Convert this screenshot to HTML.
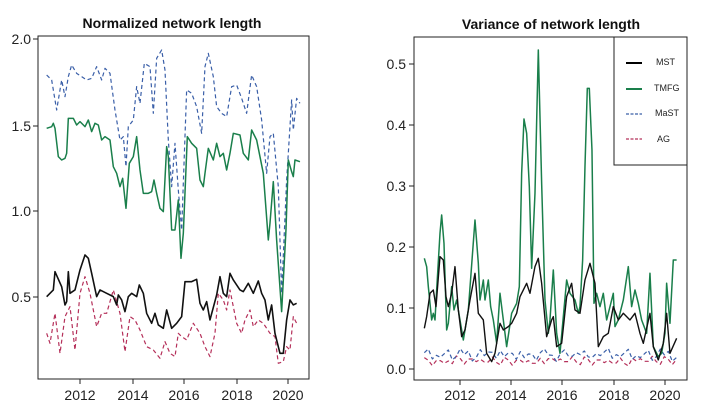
<!DOCTYPE html>
<html><head><meta charset="utf-8"><style>
html,body{margin:0;padding:0;background:#fff}
svg{display:block}
text{font-family:"Liberation Sans",sans-serif;fill:#222}
.t{font-weight:bold;font-size:14px;fill:#111}
.k{font-size:14px}
.l{font-size:9px}
</style></head><body>
<svg width="720" height="414" viewBox="0 0 720 414">
<rect width="720" height="414" fill="#fff"/>
<text class="t" x="172" y="28" text-anchor="middle">Normalized network length</text>
<text class="t" x="551" y="29" text-anchor="middle">Variance of network length</text>
<rect x="38" y="36" width="271" height="343" fill="none" stroke="#222" stroke-width="1"/>
<rect x="414" y="37" width="273" height="343" fill="none" stroke="#222" stroke-width="1"/>
<g stroke="#222" stroke-width="1">
<line x1="33" y1="39" x2="38" y2="39"/><line x1="33" y1="126" x2="38" y2="126"/><line x1="33" y1="211" x2="38" y2="211"/><line x1="33" y1="297" x2="38" y2="297"/>
<line x1="80" y1="379" x2="80" y2="384"/><line x1="133" y1="379" x2="133" y2="384"/><line x1="184" y1="379" x2="184" y2="384"/><line x1="237" y1="379" x2="237" y2="384"/><line x1="288" y1="379" x2="288" y2="384"/>
<line x1="409" y1="64" x2="414" y2="64"/><line x1="409" y1="125" x2="414" y2="125"/><line x1="409" y1="186" x2="414" y2="186"/><line x1="409" y1="247" x2="414" y2="247"/><line x1="409" y1="308" x2="414" y2="308"/><line x1="409" y1="369" x2="414" y2="369"/>
<line x1="460" y1="380" x2="460" y2="385"/><line x1="511" y1="380" x2="511" y2="385"/><line x1="562" y1="380" x2="562" y2="385"/><line x1="614" y1="380" x2="614" y2="385"/><line x1="665" y1="380" x2="665" y2="385"/>
</g>
<g class="k" text-anchor="end">
<text x="31" y="44">2.0</text><text x="31" y="131">1.5</text><text x="31" y="216">1.0</text><text x="31" y="302">0.5</text>
<text x="406" y="69">0.5</text><text x="406" y="130">0.4</text><text x="406" y="191">0.3</text><text x="406" y="252">0.2</text><text x="406" y="313">0.1</text><text x="406" y="374">0.0</text>
</g>
<g class="k" text-anchor="middle">
<text x="80" y="400">2012</text><text x="133" y="400">2014</text><text x="184" y="400">2016</text><text x="237" y="400">2018</text><text x="288" y="400">2020</text>
<text x="460" y="400">2012</text><text x="511" y="400">2014</text><text x="562" y="400">2016</text><text x="614" y="400">2018</text><text x="665" y="400">2020</text>
</g>
<g id="L" transform="scale(0.3333)" fill="none"></g>
<g id="R" transform="translate(360,0) scale(0.3333)" fill="none"></g>
<rect x="614" y="37" width="73" height="128" fill="#fff" stroke="#222"/>
<line x1="626" y1="63" x2="642" y2="63" stroke="#000" stroke-width="2"/>
<line x1="626" y1="89" x2="642" y2="89" stroke="#1a7f4b" stroke-width="2"/>
<line x1="626" y1="114" x2="642" y2="114" stroke="#3a5fa8" stroke-width="1.2" stroke-dasharray="3,1.5"/>
<line x1="626" y1="139" x2="642" y2="139" stroke="#b5305a" stroke-width="1.2" stroke-dasharray="3,1.5"/>
<text class="l" x="656" y="65">MST</text><text class="l" x="654" y="91">TMFG</text><text class="l" x="655" y="116">MaST</text><text class="l" x="657" y="142">AG</text>
</svg>
<script>
function P(g,pts,col,w,dash){var p=document.createElementNS("http://www.w3.org/2000/svg","polyline");
p.setAttribute("points",pts.map(function(a){return a.join(",")}).join(" "));
p.setAttribute("stroke",col);p.setAttribute("stroke-width",w);p.setAttribute("vector-effect","non-scaling-stroke");
p.setAttribute("stroke-linejoin","round");if(dash)p.setAttribute("stroke-dasharray",dash);document.getElementById(g).appendChild(p);}
var D="4,3";
P("L",[[140,1000],[150,1030],[165,940],[180,1060],[195,950],[210,920],[225,1050],[240,880],[255,830],[270,880],[290,980],[305,940],[320,940],[340,870],[360,940],[375,1055],[390,950],[405,960],[420,990],[440,1040],[460,1050],[480,1075],[495,1025],[510,1060],[525,1070],[535,1000],[545,1010],[560,1020],[580,970],[600,1000],[615,1040],[630,1070],[645,1000],[655,880],[670,900],[680,930],[690,870],[710,970],[725,1000],[735,960],[750,930],[760,980],[775,960],[790,970],[810,1000],[825,1010],[835,1090],[850,1085],[860,1040],[870,1050],[880,950],[890,970]],"#b5305a",1.2,D);
P("L",[[140,225],[155,240],[170,330],[185,240],[195,290],[205,230],[215,195],[230,220],[245,230],[260,240],[275,235],[290,200],[305,240],[315,205],[330,220],[345,330],[360,420],[370,410],[378,500],[385,380],[400,360],[410,260],[420,310],[433,190],[450,200],[460,340],[470,175],[485,150],[495,210],[505,420],[515,560],[525,430],[535,570],[545,690],[560,270],[575,280],[590,320],[605,400],[615,200],[625,160],[640,230],[650,320],[665,340],[680,350],[695,260],[710,255],[725,295],[740,340],[755,225],[770,260],[785,360],[800,520],[810,410],[820,400],[835,560],[845,880],[860,540],[875,300],[880,390],[890,295],[900,310]],"#3a5fa8",1.2,D);
P("L",[[140,385],[155,380],[160,370],[165,385],[175,470],[185,480],[195,475],[200,460],[205,355],[220,355],[230,375],[240,365],[255,380],[265,360],[275,395],[285,370],[295,375],[305,420],[315,410],[330,420],[340,500],[350,520],[360,560],[368,535],[378,625],[388,490],[400,470],[410,410],[420,510],[430,580],[445,580],[455,575],[462,540],[470,580],[480,625],[490,635],[500,440],[505,470],[515,690],[525,690],[535,600],[543,775],[550,700],[562,410],[575,430],[590,445],[600,540],[610,560],[615,520],[625,445],[640,480],[650,430],[660,470],[670,460],[680,510],[690,460],[700,400],[720,405],[730,460],[745,480],[755,390],[770,420],[790,520],[805,720],[810,670],[820,545],[830,720],[845,935],[858,690],[865,480],[875,515],[880,530],[885,480],[900,485]],"#1a7f4b",1.5);
P("L",[[140,890],[160,870],[165,815],[185,860],[195,915],[200,905],[205,815],[210,880],[225,870],[240,810],[255,765],[265,775],[275,820],[290,890],[300,870],[320,880],[340,890],[350,915],[355,885],[365,900],[375,935],[385,890],[395,880],[410,890],[418,855],[430,880],[440,940],[455,970],[465,940],[475,975],[490,985],[500,930],[515,985],[530,970],[545,950],[555,845],[575,845],[590,838],[600,910],[610,930],[620,905],[630,960],[650,885],[660,830],[670,880],[680,890],[690,820],[700,840],[720,870],[730,875],[745,850],[760,880],[775,843],[785,880],[795,900],[805,960],[815,915],[825,1000],[840,1060],[850,1060],[860,960],[870,900],[880,915],[890,910]],"#111",1.6);
var ag=[],ma=[];for(var x=193;x<=950;x+=12){ag.push([x,1098-((x*7)%23)-(x%48<24?8:0)]);ma.push([x,1085-((x*13)%29)-(x%60<30?12:0)]);}
P("R",ag,"#b5305a",1.2,D);P("R",ma,"#3a5fa8",1.2,D);
P("R",[[193,775],[200,800],[205,860],[210,910],[215,960],[220,940],[225,960],[230,870],[240,700],[245,645],[252,730],[260,990],[265,970],[275,860],[282,930],[290,900],[300,960],[310,1020],[325,930],[345,660],[355,790],[360,900],[370,840],[375,900],[385,840],[392,920],[400,960],[410,1030],[420,880],[430,960],[440,1040],[455,940],[470,910],[478,860],[485,520],[492,357],[500,400],[508,560],[515,805],[525,580],[535,150],[545,550],[555,900],[565,1000],[570,960],[580,810],[590,1000],[600,1060],[610,950],[620,840],[630,880],[645,900],[655,940],[660,920],[668,780],[675,500],[682,265],[688,265],[696,450],[702,910],[710,880],[720,920],[730,880],[740,960],[750,920],[760,880],[765,980],[775,960],[790,900],[805,800],[815,920],[825,870],[835,910],[845,960],[860,1000],[870,820],[880,1040],[895,1070],[905,1060],[915,1000],[920,850],[930,970],[940,780],[950,780]],"#1a7f4b",1.5);
P("R",[[193,985],[200,950],[210,880],[220,870],[228,920],[240,770],[250,780],[258,890],[265,920],[275,880],[285,800],[295,930],[305,1010],[315,990],[330,900],[345,820],[355,940],[370,960],[380,1060],[395,1085],[405,1060],[420,970],[430,990],[445,980],[455,970],[470,940],[480,890],[500,850],[510,880],[525,800],[535,775],[545,850],[560,1010],[575,960],[580,950],[590,1040],[605,1030],[620,890],[635,850],[645,930],[660,940],[675,840],[690,790],[705,850],[715,1040],[730,1010],[745,1000],[760,920],[775,960],[790,940],[810,960],[825,940],[840,1000],[850,1030],[870,940],[880,1040],[895,1080],[910,1030],[920,940],[930,1060],[950,1015]],"#111",1.4);
</script>
</body></html>
